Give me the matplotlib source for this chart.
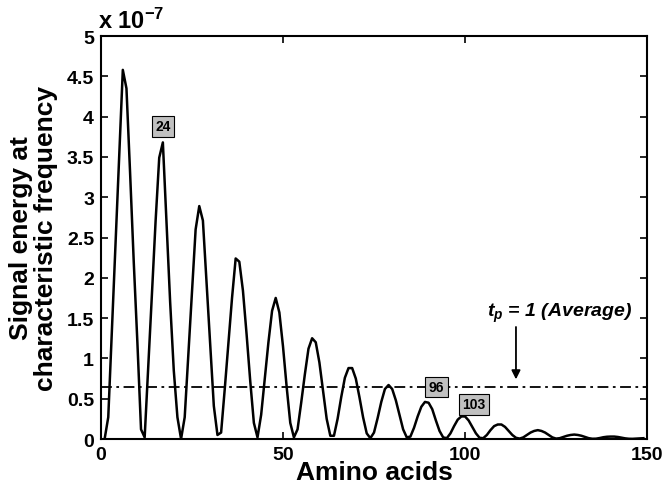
import numpy as np
import matplotlib
matplotlib.use('Agg')
import matplotlib.pyplot as plt

plt.rcParams['font.family'] = ['Liberation Sans', 'DejaVu Sans']
plt.rcParams['font.weight'] = 'bold'
plt.rcParams['mathtext.fontset'] = 'custom'
plt.rcParams['mathtext.it'] = 'Liberation Sans:bold:italic'
plt.rcParams['mathtext.rm'] = 'Liberation Sans:bold'

# signal energy (units of 1e-7) per window position, positions 1..149
positions = np.arange(1, 150)
energy = [
    0.00, 0.27, 1.35, 2.45, 3.50, 4.58, 4.35, 3.30, 2.20, 1.20,   # 1-10
    0.12, 0.02, 0.90, 1.80, 2.70, 3.49, 3.68, 2.70, 1.70, 0.85,   # 11-20
    0.27, 0.00, 0.27, 1.05, 1.85, 2.60, 2.89, 2.71, 1.94, 1.18,   # 21-30
    0.41, 0.05, 0.08, 0.62, 1.18, 1.75, 2.24, 2.20, 1.84, 1.30,   # 31-40
    0.72, 0.20, 0.02, 0.30, 0.75, 1.20, 1.59, 1.75, 1.57, 1.15,   # 41-50
    0.65, 0.20, 0.02, 0.12, 0.45, 0.80, 1.12, 1.25, 1.20, 0.95,   # 51-60
    0.60, 0.25, 0.04, 0.04, 0.25, 0.52, 0.76, 0.88, 0.88, 0.75,   # 61-70
    0.52, 0.27, 0.07, 0.01, 0.08, 0.26, 0.46, 0.62, 0.67, 0.62,   # 71-80
    0.48, 0.30, 0.12, 0.02, 0.03, 0.14, 0.28, 0.40, 0.46, 0.45,   # 81-90
    0.37, 0.23, 0.10, 0.02, 0.01, 0.07, 0.16, 0.24, 0.28, 0.28,   # 91-100
    0.23, 0.15, 0.07, 0.015, 0.01, 0.05, 0.11, 0.16, 0.18, 0.18,  # 101-110
    0.15, 0.10, 0.05, 0.015, 0.005, 0.02, 0.05, 0.08, 0.10, 0.11, # 111-120
    0.10, 0.08, 0.05, 0.02, 0.005, 0.01, 0.025, 0.04, 0.05, 0.055,  # 121-130
    0.05, 0.04, 0.025, 0.01, 0.003, 0.004, 0.012, 0.022, 0.028, 0.03,  # 131-140
    0.03, 0.025, 0.017, 0.008, 0.003, 0.002, 0.005, 0.008, 0.01,  # 141-149
]
average = 0.65

# boxed position labels: (text, x, y)
markers = [('24', 17, 3.88), ('96', 92.2, 0.645), ('103', 102.4, 0.43)]

fig = plt.figure(figsize=(6.63, 4.89), dpi=100)
ax = fig.add_axes([0.1523, 0.1002, 0.8236, 0.8241])

ax.plot(positions, energy, color='black', lw=1.8)
ax.axhline(average, color='black', lw=1.3, ls=(0, (6, 2.5, 1.5, 2.5)))

for txt, x, y in markers:
    ax.text(x, y, txt, ha='center', va='center', fontsize=10, fontweight='bold',
            bbox=dict(boxstyle='square,pad=0.25', fc='#c0c0c0', ec='black', lw=0.8))

ax.annotate('', xy=(114, 0.74), xytext=(114, 1.39),
            arrowprops=dict(arrowstyle='-|>', color='black', lw=1.3,
                            mutation_scale=13, shrinkA=0, shrinkB=0))
ax.text(126, 1.57, r'$t_p$ = 1 (Average)', ha='center', va='center',
        fontsize=14, fontweight='bold', fontstyle='italic')

ax.set_xlim(0, 150)
ax.set_ylim(0, 5)
ax.set_xticks([0, 50, 100, 150])
ax.set_yticks(np.arange(0, 5.01, 0.5))
ax.set_yticklabels(['0', '0.5', '1', '1.5', '2', '2.5', '3', '3.5', '4', '4.5', '5'])
ax.tick_params(direction='in', top=True, right=True, labelsize=14, width=1.2,
               length=5, pad=5)
for lab in ax.get_xticklabels() + ax.get_yticklabels():
    lab.set_fontweight('bold')
for s in ax.spines.values():
    s.set_linewidth(1.5)

ax.text(-0.005, 1.008, r'x 10$^{-7}$', transform=ax.transAxes, ha='left',
        va='bottom', fontsize=17, fontweight='bold')

ax.set_xlabel('Amino acids', fontsize=19, fontweight='bold', labelpad=-2)
ax.set_ylabel('Signal energy at\ncharacteristic frequency', fontsize=19,
              fontweight='bold', labelpad=6, linespacing=1.05)

fig.savefig('out.png', dpi=100)
